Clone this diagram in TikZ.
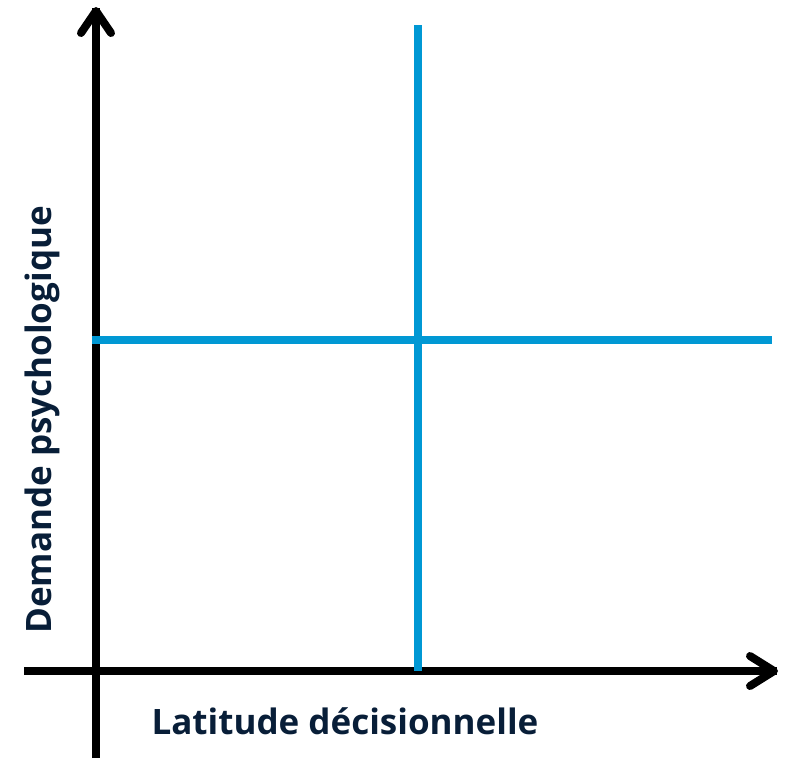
\documentclass[tikz,border=0pt]{standalone}
\usepackage{fontspec}
\setmainfont{Open Sans}
\definecolor{quadblue}{RGB}{0,152,212}
\definecolor{labelnavy}{RGB}{8,30,56}
\begin{document}
\begin{tikzpicture}[x=1pt,y=-1pt,
  axisline/.style={line width=8pt,black},
  chevron/.style={line width=8pt,black,line cap=round,line join=round},
  quadline/.style={line width=8pt,quadblue},
  axislabel/.style={font=\bfseries\fontsize{35}{40}\selectfont,text=labelnavy,inner sep=0pt}]
\useasboundingbox (0,0) rectangle (787,758);
% axes
\coordinate (yb) at (96,758);
\coordinate (yt) at (96,8);
\coordinate (xl) at (24,671);
\coordinate (xr) at (777,671);
\draw[axisline] (yb) -- (yt);
\draw[axisline] (xl) -- (xr);
\coordinate (ywl) at (81,33);
\coordinate (ywr) at (111,33);
\coordinate (ytip) at (96,11);
\draw[chevron] (ywl) -- (ytip) -- (ywr);
\coordinate (xwt) at (750,656);
\coordinate (xwb) at (750,686);
\coordinate (xtip) at (774,671);
\draw[chevron] (xwt) -- (xtip) -- (xwb);
% quadrant lines
\coordinate (vt) at (418,25);
\coordinate (vb) at (418,671);
\coordinate (hl) at (92,340);
\coordinate (hr) at (772,340);
\draw[quadline] (vt) -- (vb);
\draw[quadline] (hl) -- (hr);
% labels
\node[axislabel] (xlab) at (345,721) {Latitude décisionnelle};
\node[axislabel,rotate=90] (ylab) at (42,420) {Demande psychologique};
\end{tikzpicture}
\end{document}
